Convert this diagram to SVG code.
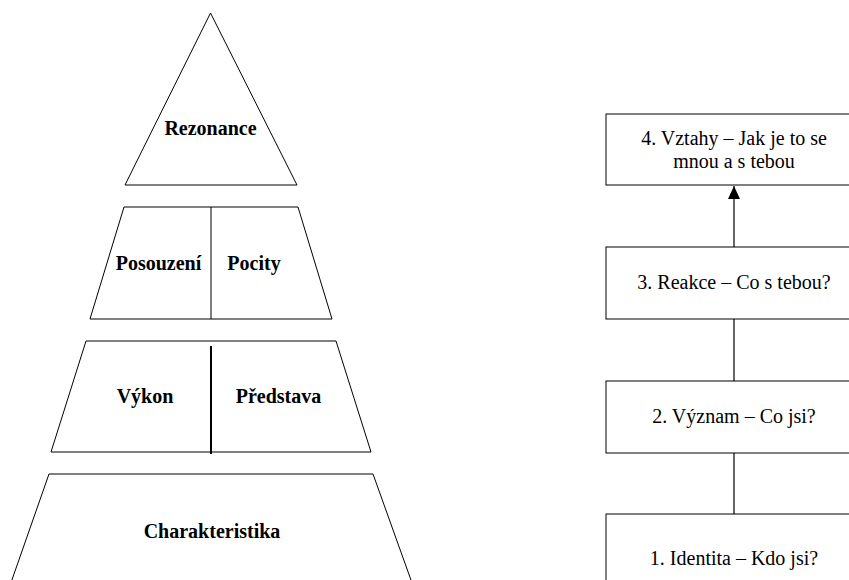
<svg xmlns="http://www.w3.org/2000/svg" width="849" height="580" viewBox="0 0 849 580" font-family="Liberation Serif">
<defs>
<style>
.shape{fill:#fff;stroke:#000;stroke-width:1}
.div{stroke:#000;stroke-width:1;fill:none}
.lbl{font-size:20px;font-weight:bold;text-anchor:middle;fill:#000}
.txt{font-size:20px;text-anchor:middle;fill:#000}
.conn{stroke:#000;stroke-width:1.2;fill:none}
</style>
<marker id="arrow" markerWidth="13" markerHeight="12" refX="13" refY="6" orient="auto" markerUnits="userSpaceOnUse" viewBox="0 0 13 12">
<path d="M0,0 L13,6 L0,12 Z" fill="#000"/>
</marker>
</defs>
<rect width="849" height="580" fill="#fff"/>
<g id="rezonance">
<polygon class="shape" points="210.5,13 297,185 125,185"/>
<text class="lbl" x="210.5" y="135" style="font-family:'Liberation Serif',serif !important">Rezonance</text>
</g>
<g id="posouzeni-pocity">
<polygon class="shape" points="124,207 298,207 332,319 90,319"/>
<line class="div" x1="211" y1="207" x2="211" y2="319"/>
<text class="lbl" x="158.5" y="270" style="font-family:'Liberation Serif',serif !important">Posouzení</text>
<text class="lbl" x="254" y="270" style="font-family:'Liberation Serif',serif !important">Pocity</text>
</g>
<g id="vykon-predstava">
<polygon class="shape" points="86,341 336,341 371,452 51,452"/>
<line class="div" x1="211" y1="346" x2="211" y2="454" style="stroke-width:2"/>
<text class="lbl" x="145" y="403" style="font-family:'Liberation Serif',serif !important">Výkon</text>
<text class="lbl" x="278.5" y="403" style="font-family:'Liberation Serif',serif !important">Představa</text>
</g>
<g id="charakteristika">
<polygon class="shape" points="49,474 373,474 416,594 7,594"/>
<text class="lbl" x="212" y="538" style="font-family:'Liberation Serif',serif !important">Charakteristika</text>
</g>
<g id="box4">
<rect class="shape" x="606" y="114" width="256" height="71"/>
<text class="txt" x="734" y="145" style="font-family:'Liberation Serif',serif !important">4. Vztahy – Jak je to se</text>
<text class="txt" x="734" y="168" style="font-family:'Liberation Serif',serif !important">mnou a s tebou</text>
</g>
<g id="box3">
<rect class="shape" x="606" y="247" width="256" height="72"/>
<text class="txt" x="734" y="289" style="font-family:'Liberation Serif',serif !important">3. Reakce – Co s tebou?</text>
</g>
<g id="box2">
<rect class="shape" x="606" y="381" width="256" height="72"/>
<text class="txt" x="734" y="423" style="font-family:'Liberation Serif',serif !important">2. Význam – Co jsi?</text>
</g>
<g id="box1">
<rect class="shape" x="606" y="514" width="256" height="80"/>
<text class="txt" x="734" y="565" style="font-family:'Liberation Serif',serif !important">1. Identita – Kdo jsi?</text>
</g>
<g id="connectors">
<line class="conn" x1="734" y1="247" x2="734" y2="186" marker-end="url(#arrow)"/>
<line class="conn" x1="734" y1="319" x2="734" y2="381"/>
<line class="conn" x1="734" y1="453" x2="734" y2="514"/>
</g>
</svg>
